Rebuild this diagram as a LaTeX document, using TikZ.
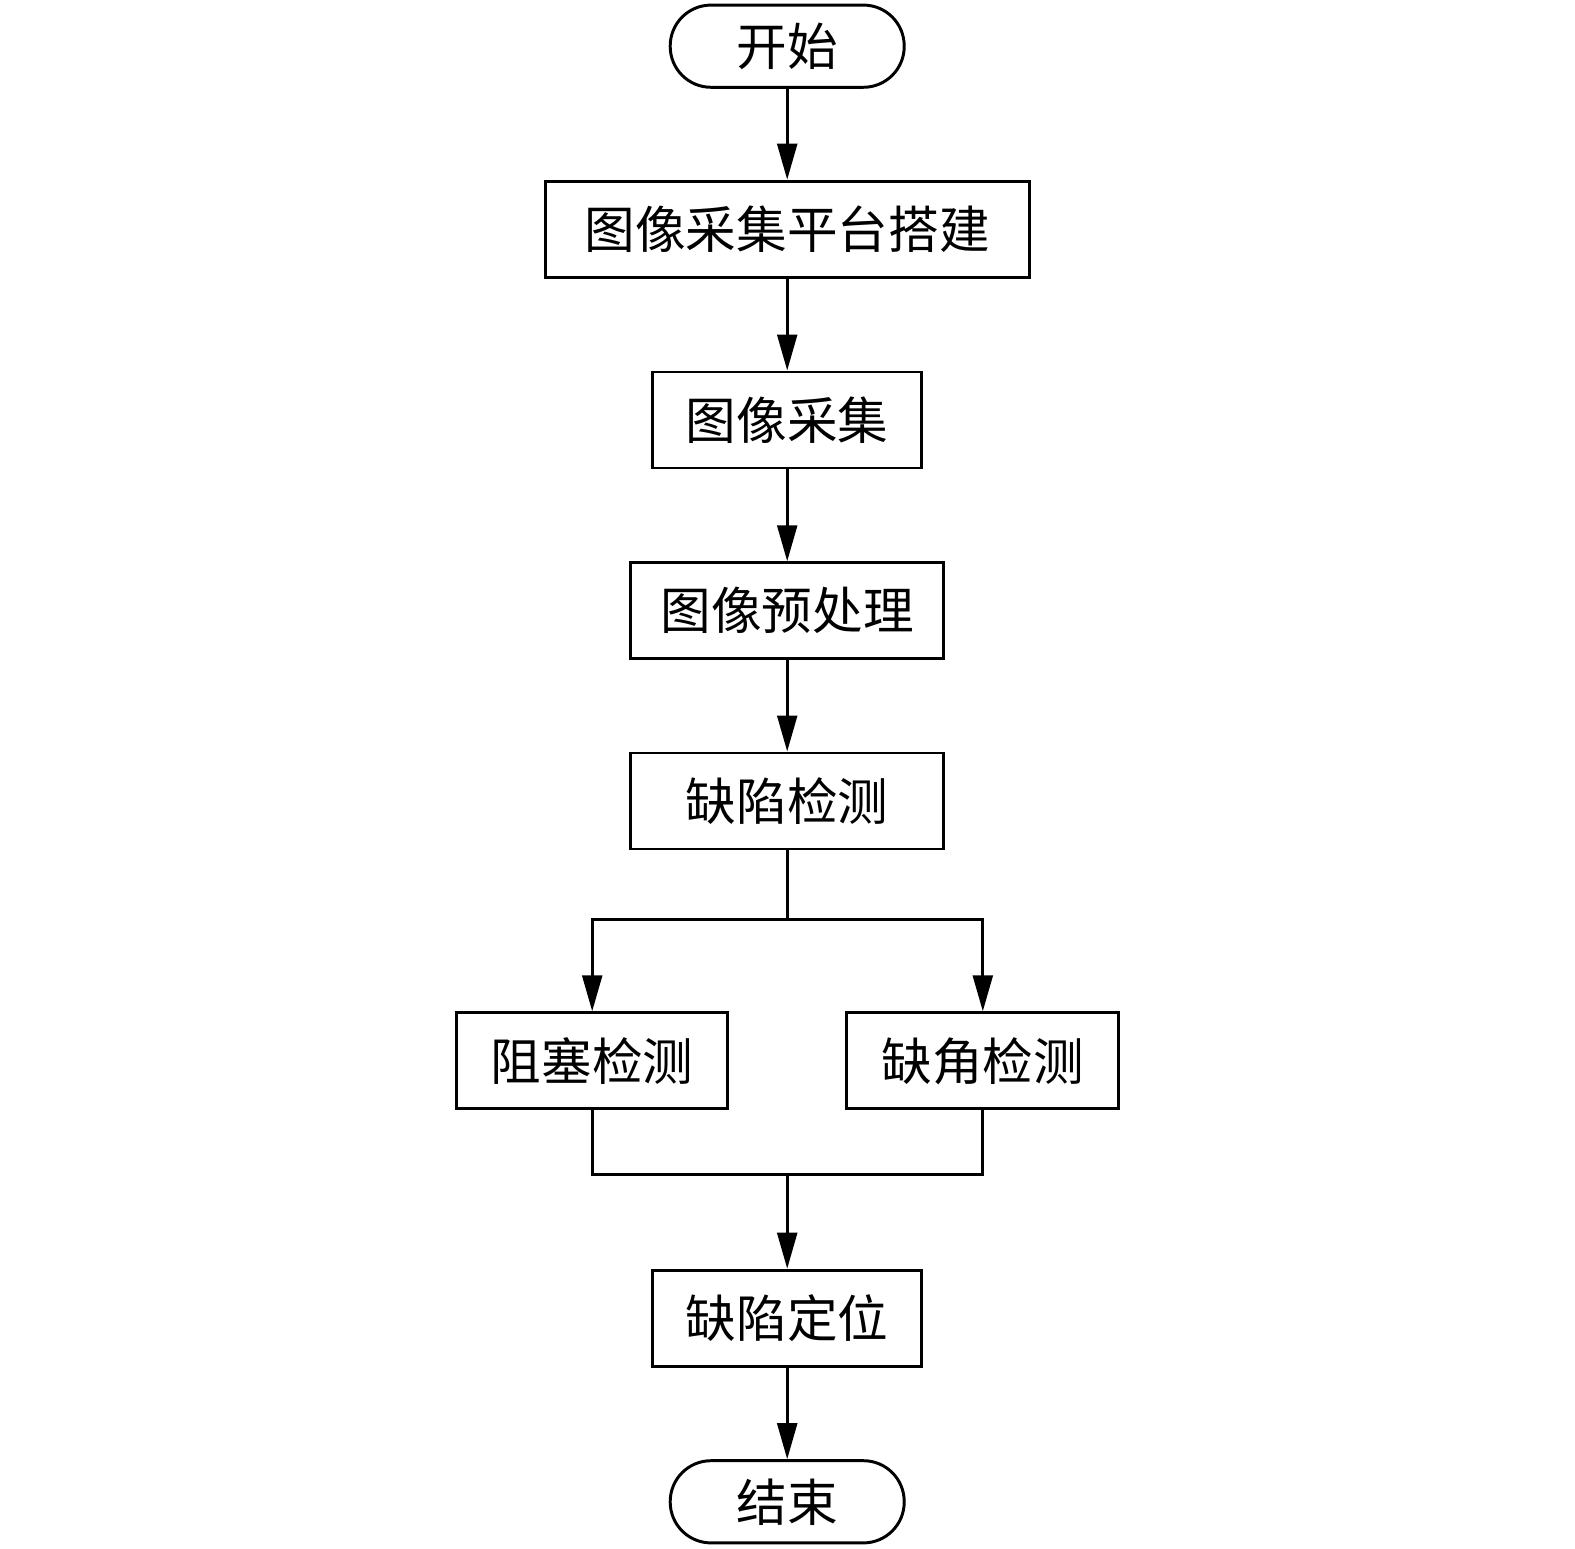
\documentclass[tikz,border=0pt]{standalone}
\usepackage{fontspec}
\setmainfont{Noto Sans CJK SC}
\usetikzlibrary{arrows.meta,positioning}
\tikzset{
	stepbox/.style={draw,line width=1.4pt,minimum height=1.6cm,inner sep=0pt,font=\fontsize{24}{28}\selectfont},
	endbox/.style={stepbox,rounded corners=0.68cm,minimum width=3.9cm,minimum height=1.37cm},
	arr/.style={-{Triangle[length=0.6cm,width=0.33cm]}}
}

\begin{document}
\begin{tikzpicture}[line width=1.4pt]
	\useasboundingbox (0,0) rectangle (26.25,25.8);
	\node (start) at (13.12,25.03)[endbox] {开始};
	\node (setup) at (13.12,21.98)[stepbox,minimum width=8.07cm] {图像采集平台搭建};
	\node (grab) at (13.12,18.8)[stepbox,minimum width=4.48cm] {图像采集};
	\node (prep) at (13.12,15.62)[stepbox,minimum width=5.22cm] {图像预处理};
	\node (det) at (13.12,12.45)[stepbox,minimum width=5.22cm] {缺陷检测};
	\node (blk) at (9.87,8.12)[stepbox,minimum width=4.52cm] {阻塞检测};
	\node (cor) at (16.38,8.12)[stepbox,minimum width=4.53cm] {缺角检测};
	\node (loc) at (13.12,3.83)[stepbox,minimum width=4.48cm] {缺陷定位};
	\node (stop) at (13.12,0.77)[endbox] {结束};
	\coordinate (split) at (13.12,10.48);
	\coordinate (merge) at (13.12,6.23);
	\draw[arr] (start)--(setup);
	\draw[arr] (setup)--(grab);
	\draw[arr] (grab)--(prep);
	\draw[arr] (prep)--(det);
	\draw (det)--(split);
	\draw[arr] (split)-|(blk);
	\draw[arr] (split)-|(cor);
	\draw (blk)|-(merge);
	\draw (cor)|-(merge);
	\draw[arr] (merge)--(loc);
	\draw[arr] (loc)--(stop);
\end{tikzpicture}
\end{document}
